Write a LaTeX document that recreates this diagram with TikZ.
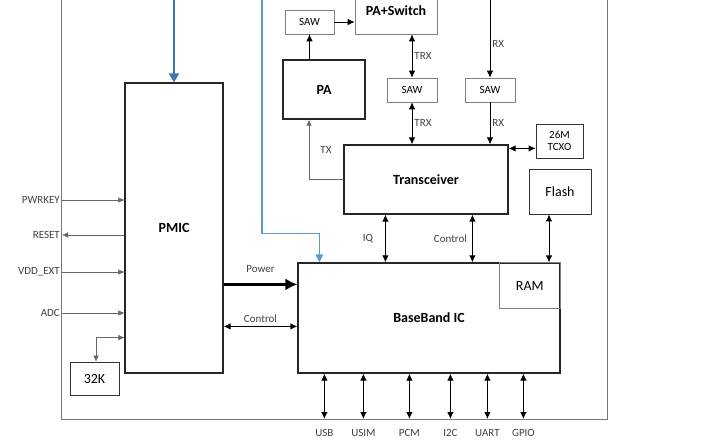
\documentclass[tikz,border=0pt]{standalone}
\usepackage{fontspec}
\setmainfont{Carlito}
\usetikzlibrary{calc,arrows.meta}
\definecolor{darkblue}{RGB}{62,116,176}
\definecolor{lightblue}{RGB}{91,155,213}
\definecolor{labelgray}{RGB}{64,64,64}
\definecolor{framegray}{RGB}{120,120,120}

\begin{document}
\begin{tikzpicture}[x=1pt,y=-1pt,>={Latex[length=7pt,width=6.5pt]},
    bigbox/.style={draw=black!85,line width=1.2pt,inner sep=0pt,font=\fontsize{14}{16}\selectfont\bfseries},
    box/.style={draw=black!80,line width=0.8pt,inner sep=0pt,font=\fontsize{14}{16}\selectfont},
    thinbox/.style={draw=gray,line width=0.6pt,inner sep=0pt,font=\fontsize{11}{13}\selectfont},
    sig/.style={font=\fontsize{11}{13}\selectfont,text=labelgray,inner sep=2pt},
    link/.style={line width=0.9pt},
    wire/.style={line width=0.5pt,draw=black!60,>={Latex[length=6pt,width=5.5pt]}}]
                      \useasboundingbox (0,0) rectangle (713,445);
                      % module frame
                      \draw[framegray,line width=0.9pt] (61,-10) |- (607,419) -- (607,-10);
                      \coordinate (fbot) at (61,419);
                      % blocks
                      \node[bigbox,minimum width=98,minimum height=290](pmic)at(174,228){PMIC};
                      \node[bigbox,minimum width=82,minimum height=59](pa)at(324,89.5){PA};
                      \node[thinbox,minimum width=49,minimum height=24](sawtx)at(309.5,22){SAW};
                      \node[thinbox,font=\fontsize{14}{16}\selectfont\bfseries,minimum width=82,minimum height=46](paswitch)at(396,11){PA+Switch};
                      \node[thinbox,minimum width=50,minimum height=24](sawtrx)at(412,90){SAW};
                      \node[thinbox,minimum width=50,minimum height=24](sawrx)at(490,90){SAW};
                      \node[bigbox,minimum width=164,minimum height=69](trx)at(426,179.5){Transceiver};
                      \node[box,font=\fontsize{11}{12}\selectfont,align=center,minimum width=47,minimum height=34](tcxo)at(559.5,141){26M\\TCXO};
                      \node[box,minimum width=62,minimum height=45](flash)at(560,191.5){Flash};
                      \node[bigbox,minimum width=262,minimum height=110](bb)at(429,318){BaseBand IC};
                      \node[thinbox,font=\fontsize{14}{16}\selectfont,minimum width=61,minimum height=46,anchor=north east](ram)at(bb.north east){RAM};
                      \node[box,minimum width=49,minimum height=33](k32)at(94.5,378.5){32K};
                      % supply lines from above
                      \coordinate (vbat) at (174,-10);
                      \draw[darkblue,line width=1.6pt,-{Triangle[length=9pt,width=10pt]}] (vbat) -- (pmic.north);
                      \coordinate (vio) at (262,-10);
                      \coordinate (bbin) at ([xshift=22pt]bb.north west);
                      \draw[lightblue,line width=1.2pt,-{Triangle[length=8pt,width=7.5pt]}] (vio) |- ([yshift=29pt]bbin) -- (bbin);
                      % RF path
                      \draw[link,->] (pa.north -| sawtx.south) -- (sawtx.south);
                      \draw[link,->] (sawtx.east) -- (sawtx.east -| paswitch.west);
                      \draw[link,<->] (sawtrx.north) -- (sawtrx.north |- paswitch.south) node[sig,midway,right](ltrxa){TRX};
                      \draw[link,<->] (sawtrx.south) -- (sawtrx.south |- trx.north) node[sig,midway,right](ltrxb){TRX};
                      \coordinate (rxtop) at (490,-10);
                      \draw[link,->] (rxtop) -- (sawrx.north) node[sig,pos=0.62,right](lrxa){RX};
                      \draw[link,->] (sawrx.south) -- (sawrx.south |- trx.north) node[sig,midway,right](lrxb){RX};
                      \draw[wire,line width=0.8pt,->] (trx.west) -| ([xshift=-15pt]pa.south) node[sig,pos=0.75,right=9pt](ltx){TX};
                      \coordinate (trxout) at ([yshift=-4pt]trx.north east);
                      \draw[link,<->] (trxout) -- (trxout -| tcxo.west);
                      % transceiver / memory to baseband
                      \coordinate (iq) at ([xshift=42pt]trx.south west);
                      \draw[link,<->] (iq) -- (iq |- bb.north) node[sig,midway,left=10pt](liq){IQ};
                      \coordinate (ctrl) at ([xshift=129pt]trx.south west);
                      \draw[link,<->] (ctrl) -- (ctrl |- bb.north) node[sig,midway,left=3pt](lctrl){Control};
                      \coordinate (mem) at ([xshift=-11pt]flash.south);
                      \draw[link,<->] (mem) -- (mem |- bb.north);
                      % PMIC to baseband
                      \coordinate (pwr) at ([yshift=-22pt]bb.north west);
                      \draw[line width=2.2pt,-{Latex[length=12pt,width=12pt]}] (pwr -| pmic.east) -- (pwr) node[sig,midway,above=9pt](lpwr){Power};
                      \coordinate (pctl) at ([yshift=-64pt]bb.north west);
                      \draw[link,<->] (pctl -| pmic.east) -- (pctl) node[sig,midway,above=1pt](lpctl){Control};
                      % PMIC signals
                      \node[sig,anchor=east](pwrkey)at(62,200){PWRKEY};
                      \draw[wire,->] (pwrkey.east) -- (pwrkey.east -| pmic.west);
                      \node[sig,anchor=east](reset)at(62,235){RESET};
                      \draw[wire,->] (reset.east -| pmic.west) -- (reset.east);
                      \node[sig,anchor=east](vddext)at(62,272){VDD\_EXT};
                      \draw[wire,->] (vddext.east) -- (vddext.east -| pmic.west);
                      \node[sig,anchor=east](adc)at(62,313){ADC};
                      \draw[wire,->] (adc.east) -- (adc.east -| pmic.west);
                      \coordinate (clk) at ([yshift=36pt]pmic.south west);
                      \draw[wire,<->] ([xshift=1.5pt]k32.north) |- (clk);
                      % baseband interfaces
                      \foreach \dx/\lbl in {27/USB,66/USIM,112/PCM,153/I2C,190/UART,226/GPIO}{
                        \coordinate (io) at ([xshift=\dx pt]bb.south west);
                        \draw[link,<->] (io) -- (io |- fbot) node[sig,below=8pt](l\lbl){\lbl};
                      }
                  \end{tikzpicture}
\end{document}
